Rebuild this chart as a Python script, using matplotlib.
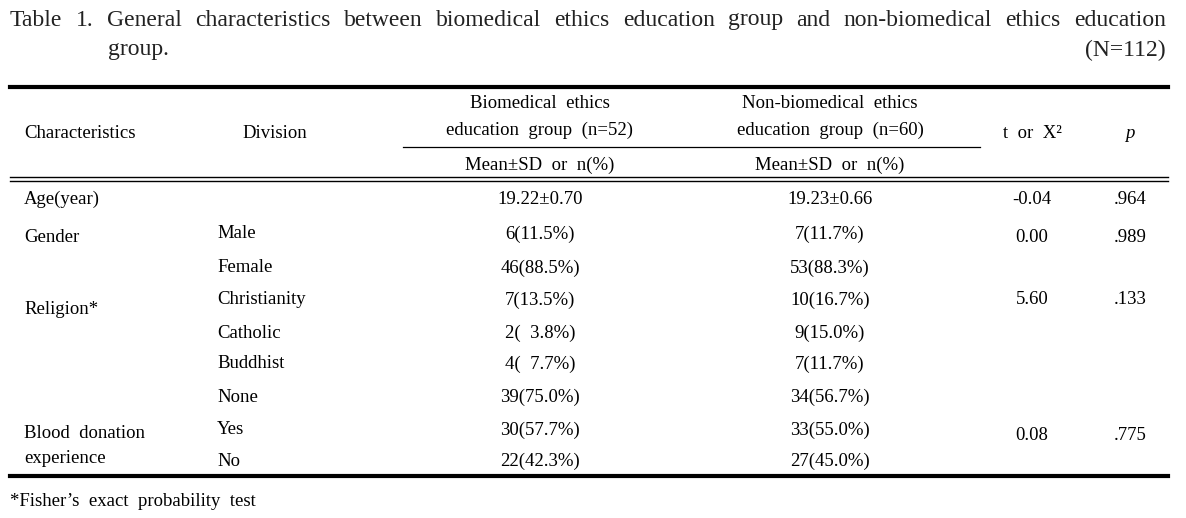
import matplotlib.pyplot as plt

plt.rcParams['font.family'] = ['Liberation Serif', 'DejaVu Serif']

# table content
title_words = ["Table", "1.", "General", "characteristics", "between", "biomedical",
               "ethics", "education", "group", "and", "non-biomedical", "ethics", "education"]
title_line2 = "group."
title_n = "(N=112)"

characteristics = ["Age(year)", "Gender", "Religion*", "Blood  donation\nexperience"]
division = ["", "Male", "Female", "Christianity", "Catholic", "Buddhist", "None", "Yes", "No"]
group1 = ["19.22±0.70", "6(11.5%)", "46(88.5%)", "7(13.5%)", "2(  3.8%)", "4(  7.7%)",
          "39(75.0%)", "30(57.7%)", "22(42.3%)"]
group2 = ["19.23±0.66", "7(11.7%)", "53(88.3%)", "10(16.7%)", "9(15.0%)", "7(11.7%)",
          "34(56.7%)", "33(55.0%)", "27(45.0%)"]
t_vals = ["-0.04", "0.00", "5.60", "0.08"]
p_vals = [".964", ".989", ".133", ".775"]
footnote = "*Fisher\u2019s  exact  probability  test"

W, H = 1186, 518
fig = plt.figure(figsize=(W / 100, H / 100), dpi=100)
ax = fig.add_axes([0, 0, 1, 1])
ax.set_xlim(0, W)
ax.set_ylim(H, 0)
ax.axis('off')

fs_title = 17
fs = 13.5

# title line 1, justified between x0 and x1
x0, x1 = 10, 1166
fig.canvas.draw()
r = fig.canvas.get_renderer()
txts = [ax.text(0, 20, w, fontsize=fs_title, va='center', ha='left', color='#222222')
        for w in title_words]
inv = ax.transData.inverted()
widths = []
for t in txts:
    bb = t.get_window_extent(renderer=r)
    widths.append(inv.transform((bb.x1, 0))[0] - inv.transform((bb.x0, 0))[0])
gap = (x1 - x0 - sum(widths)) / (len(txts) - 1)
x = x0
for t, w in zip(txts, widths):
    t.set_x(x)
    x += w + gap
ax.text(108, 50, title_line2, fontsize=fs_title, va='center', ha='left', color='#222222')
ax.text(x1, 50, title_n, fontsize=fs_title, va='center', ha='right', color='#222222')

# rules
L, R = 10, 1168
ax.plot([L, R], [87, 87], color='black', lw=3)
ax.plot([403, 980], [147, 147], color='black', lw=0.9)
ax.plot([L, R], [176.5, 176.5], color='black', lw=1.0)
ax.plot([L, R], [180.5, 180.5], color='black', lw=1.0)
ax.plot([L, R], [476, 476], color='black', lw=3)

# header
c1, c2, ct, cp = 540, 830, 1032, 1130
ax.text(80, 133, "Characteristics", fontsize=fs, ha='center', va='center')
ax.text(275, 133, "Division", fontsize=fs, ha='center', va='center')
ax.text(c1, 103, "Biomedical  ethics", fontsize=fs, ha='center', va='center')
ax.text(c1, 130, "education  group  (n=52)", fontsize=fs, ha='center', va='center')
ax.text(c2, 103, "Non-biomedical  ethics", fontsize=fs, ha='center', va='center')
ax.text(c2, 130, "education  group  (n=60)", fontsize=fs, ha='center', va='center')
ax.text(c1, 165, "Mean±SD  or  n(%)", fontsize=fs, ha='center', va='center')
ax.text(c2, 165, "Mean±SD  or  n(%)", fontsize=fs, ha='center', va='center')
ax.text(ct, 133, "t  or  X\u00b2", fontsize=fs, ha='center', va='center')
ax.text(cp, 133, "p", fontsize=fs, ha='center', va='center', style='italic')

# body
row_y = [199, 234, 268, 300, 333, 364, 397, 430, 461]
char_y = [199, 238, 310, 446]
for lab, y in zip(characteristics, char_y):
    ax.text(24, y, lab, fontsize=fs, ha='left', va='center', linespacing=1.55)
for i, y in enumerate(row_y):
    ax.text(217, y, division[i], fontsize=fs, ha='left', va='center')
    ax.text(c1, y, group1[i], fontsize=fs, ha='center', va='center')
    ax.text(c2, y, group2[i], fontsize=fs, ha='center', va='center')
stat_y = [199, 238, 300, 435]
for tv, pv, y in zip(t_vals, p_vals, stat_y):
    ax.text(ct, y, tv, fontsize=fs, ha='center', va='center')
    ax.text(cp, y, pv, fontsize=fs, ha='center', va='center')

ax.text(10, 501, footnote, fontsize=fs, ha='left', va='center')

fig.savefig('out.png', dpi=100)
